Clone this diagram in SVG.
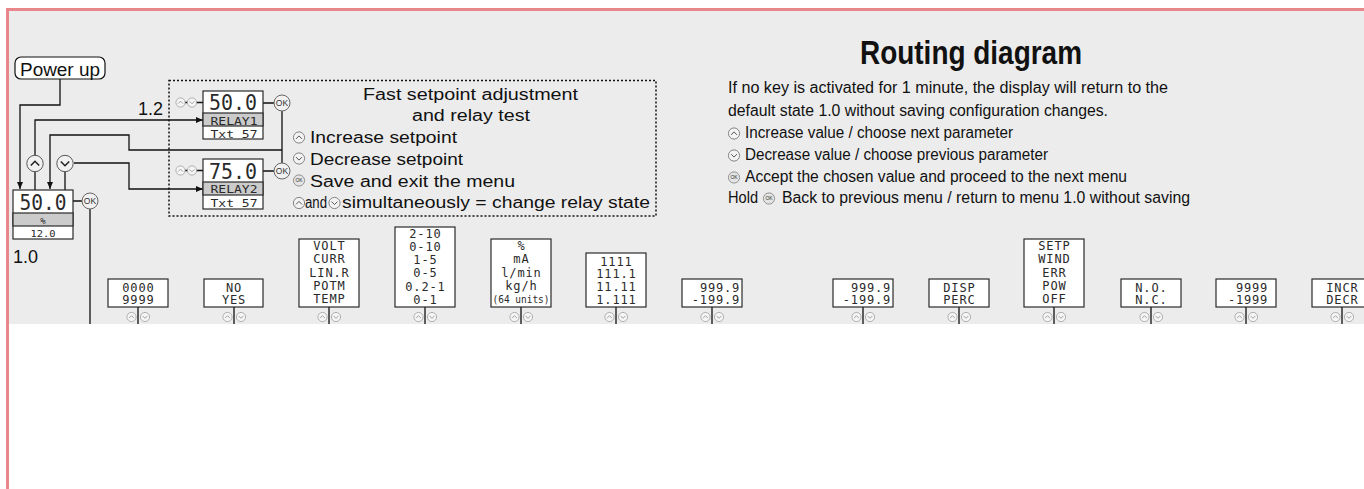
<svg xmlns="http://www.w3.org/2000/svg" xmlns:xlink="http://www.w3.org/1999/xlink" width="1364" height="489" viewBox="0 0 1364 489">
<style>
.bg{fill:#ececec}
.frame{fill:none;stroke:#e9868c;stroke-width:3}
.ln{fill:none;stroke:#111;stroke-width:1.3}
.bx{fill:#fff;stroke:#2a2a2a;stroke-width:1.2}
.gry{fill:#cbcbcb;stroke:#2a2a2a;stroke-width:1.2}
.lcd{font-family:"DejaVu Sans Mono","Liberation Mono",monospace;font-size:12px;fill:#2a2a2a;letter-spacing:0.8px;text-anchor:middle}
.lcdr{font-family:"DejaVu Sans Mono","Liberation Mono",monospace;font-size:12px;fill:#2a2a2a;letter-spacing:0.8px;text-anchor:end}
.lcdfit{font-family:"DejaVu Sans Mono","Liberation Mono",monospace;fill:#2a2a2a;text-anchor:middle}
.sans{font-family:"Liberation Sans",Arial,sans-serif;fill:#111}
.t16{font-size:16px}
.t18{font-size:18px}
.dot{fill:none;stroke:#111;stroke-width:1.5;stroke-dasharray:2 2}
.okt{font-family:"Liberation Sans",Arial,sans-serif;fill:#333;text-anchor:middle}
</style>
<defs>
<marker id="ah" markerWidth="7" markerHeight="6" refX="7" refY="3" orient="auto" markerUnits="userSpaceOnUse"><path d="M0,0 L7,3 L0,6 z" fill="#111"/></marker>
<g id="iu"><circle r="5.6" fill="#f3f3f3" stroke="#777" stroke-width="0.9"/><path d="M-3,1.4 L0,-1.6 L3,1.4" fill="none" stroke="#555" stroke-width="1"/></g>
<g id="id"><circle r="5.6" fill="#f3f3f3" stroke="#777" stroke-width="0.9"/><path d="M-3,-1.4 L0,1.6 L3,-1.4" fill="none" stroke="#555" stroke-width="1"/></g>
<g id="iok"><circle r="5.6" fill="#e4e4e4" stroke="#888" stroke-width="0.9"/><text class="okt" y="1.8" font-size="5">OK</text></g>
<g id="su"><circle r="4.6" fill="#f5f5f5" stroke="#a0a0a0" stroke-width="0.8"/><path d="M-2.4,1.1 L0,-1.3 L2.4,1.1" fill="none" stroke="#999" stroke-width="0.9"/></g>
<g id="sd"><circle r="4.6" fill="#f5f5f5" stroke="#a0a0a0" stroke-width="0.8"/><path d="M-2.4,-1.1 L0,1.3 L2.4,-1.1" fill="none" stroke="#999" stroke-width="0.9"/></g>
<g id="bu"><circle r="8.2" fill="#f1f1f1" stroke="#555" stroke-width="1"/><path d="M-4.2,2 L0,-2.3 L4.2,2" fill="none" stroke="#222" stroke-width="1.5"/></g>
<g id="bd"><circle r="8.2" fill="#f1f1f1" stroke="#555" stroke-width="1"/><path d="M-4.2,-2 L0,2.3 L4.2,-2" fill="none" stroke="#222" stroke-width="1.5"/></g>
<g id="okb"><circle r="8" fill="#f1f1f1" stroke="#666" stroke-width="1"/><text class="okt" y="3" font-size="8.5">OK</text></g>
</defs>

<rect x="0" y="0" width="1364" height="489" fill="#fff"/>
<rect class="bg" x="9" y="10" width="1355" height="314"/>
<path class="frame" d="M7.5,489 V9.5 H1364"/>

<g id="connectors">
<path class="ln" d="M60,79 V105 H20 V189" marker-end="url(#ah)"/>
<path class="ln" d="M35,155 V120 H203" marker-end="url(#ah)"/>
<path class="ln" d="M282,150 H129 V135 H50 V189" marker-end="url(#ah)"/>
<path class="ln" d="M74,163 H129 V189 H203" marker-end="url(#ah)"/>
<path class="ln" d="M35,172 V190 M65,172 V190"/>
<path class="ln" d="M73,201 H82 M90,209 V324"/>
<path class="ln" d="M263,103 H274 M263,171 H274 M282,111 V163"/>
<path class="ln" d="M185,102.5 H203 M185,170.5 H203"/>
<path class="ln" d="M138,307 V324 M234,307 V324 M329,307 V324 M425,307 V324 M521,307 V324 M616,307 V324 M712,307 V324 M863,307 V324 M959,307 V324 M1054,307 V324 M1151,307 V324 M1246,307 V324 M1342,307 V324"/>
</g>

<g id="power-up">
<rect x="15" y="57" width="90" height="22" rx="6" fill="#fff" stroke="#111" stroke-width="1.2"/>
<text class="sans t18" x="20" y="76" textLength="80" lengthAdjust="spacingAndGlyphs">Power up</text>
</g>

<g id="menu-1-0">
<rect class="bx" x="13" y="190" width="60" height="49"/>
<rect class="gry" x="13" y="213" width="60" height="13"/>
<text class="lcdfit" x="43" y="210" font-size="21" textLength="47" lengthAdjust="spacingAndGlyphs">50.0</text>
<text class="lcdfit" x="43" y="224" font-size="9">%</text>
<text class="lcdfit" x="43" y="237" font-size="9.5" textLength="25" lengthAdjust="spacingAndGlyphs">12.0</text>
<use xlink:href="#bu" x="35" y="163.5"/>
<use xlink:href="#bd" x="65" y="163.5"/>
<use xlink:href="#okb" x="90" y="201"/>
<text class="sans t18" x="13" y="263">1.0</text>
</g>

<g id="menu-1-2">
<rect class="dot" x="169" y="80.5" width="487" height="135.5"/>
<text class="sans t18" x="138" y="115">1.2</text>
<rect class="bx" x="203" y="91" width="60" height="48"/>
<rect class="gry" x="203" y="113" width="60" height="13"/>
<text class="lcdfit" x="233" y="110" font-size="21" textLength="48" lengthAdjust="spacingAndGlyphs">50.0</text>
<text class="lcdfit" x="234" y="124.5" font-size="11" textLength="47" lengthAdjust="spacingAndGlyphs">RELAY1</text>
<text class="lcdfit" x="234" y="137.5" font-size="11" textLength="47" lengthAdjust="spacingAndGlyphs">Txt 57</text>
<use xlink:href="#su" x="180.5" y="102.5"/>
<use xlink:href="#sd" x="192" y="102.5"/>
<use xlink:href="#okb" x="282" y="103"/>
<rect class="bx" x="203" y="159" width="60" height="50"/>
<rect class="gry" x="203" y="182" width="60" height="13"/>
<text class="lcdfit" x="233" y="179" font-size="21" textLength="48" lengthAdjust="spacingAndGlyphs">75.0</text>
<text class="lcdfit" x="234" y="193.3" font-size="11" textLength="47" lengthAdjust="spacingAndGlyphs">RELAY2</text>
<text class="lcdfit" x="234" y="207" font-size="11" textLength="47" lengthAdjust="spacingAndGlyphs">Txt 57</text>
<use xlink:href="#su" x="180.5" y="170.5"/>
<use xlink:href="#sd" x="192" y="170.5"/>
<use xlink:href="#okb" x="282" y="171"/>
<text class="sans t16" x="363" y="100" textLength="215" lengthAdjust="spacingAndGlyphs">Fast setpoint adjustment</text>
<text class="sans t16" x="412" y="120.5" textLength="118" lengthAdjust="spacingAndGlyphs">and relay test</text>
<use xlink:href="#iu" x="299" y="137.5"/>
<text class="sans t16" x="310" y="143.3" textLength="147" lengthAdjust="spacingAndGlyphs">Increase setpoint</text>
<use xlink:href="#id" x="299" y="158.5"/>
<text class="sans t16" x="310" y="165" textLength="153" lengthAdjust="spacingAndGlyphs">Decrease setpoint</text>
<use xlink:href="#iok" x="299" y="180.5"/>
<text class="sans t16" x="310" y="187.3" textLength="205" lengthAdjust="spacingAndGlyphs">Save and exit the menu</text>
<use xlink:href="#iu" x="299" y="203"/>
<text class="sans t16" x="305" y="208.3" textLength="22" lengthAdjust="spacingAndGlyphs">and</text>
<use xlink:href="#id" x="334.5" y="203"/>
<text class="sans t16" x="342" y="208.3" textLength="308" lengthAdjust="spacingAndGlyphs">simultaneously = change relay state</text>
</g>

<g id="legend">
<text class="sans" x="860" y="64" font-size="33" font-weight="bold" textLength="222" lengthAdjust="spacingAndGlyphs">Routing diagram</text>
<text class="sans t16" x="728" y="93.3" textLength="440" lengthAdjust="spacingAndGlyphs">If no key is activated for 1 minute, the display will return to the</text>
<text class="sans t16" x="728" y="115.5" textLength="380" lengthAdjust="spacingAndGlyphs">default state 1.0 without saving configuration changes.</text>
<use xlink:href="#iu" x="734" y="133.5"/>
<text class="sans t16" x="745" y="137.8" textLength="268" lengthAdjust="spacingAndGlyphs">Increase value / choose next parameter</text>
<use xlink:href="#id" x="734" y="155.5"/>
<text class="sans t16" x="745" y="159.8" textLength="303" lengthAdjust="spacingAndGlyphs">Decrease value / choose previous parameter</text>
<use xlink:href="#iok" x="734" y="177.5"/>
<text class="sans t16" x="745" y="181.7" textLength="382" lengthAdjust="spacingAndGlyphs">Accept the chosen value and proceed to the next menu</text>
<text class="sans t16" x="728" y="203.3" textLength="30" lengthAdjust="spacingAndGlyphs">Hold</text>
<use xlink:href="#iok" x="769" y="198.5"/>
<text class="sans t16" x="782" y="203.3" textLength="408" lengthAdjust="spacingAndGlyphs">Back to previous menu / return to menu 1.0 without saving</text>
</g>

<g id="p-0000">
<rect class="bx" x="108" y="279" width="60" height="28"/>
<text class="lcd" x="138.4" y="292">0000</text><text class="lcd" x="138.4" y="304">9999</text>
<use xlink:href="#su" x="131.5" y="317"/><use xlink:href="#sd" x="145" y="317"/>
</g>
<g id="p-noyes">
<rect class="bx" x="204" y="279" width="59" height="28"/>
<text class="lcd" x="234" y="292">NO</text><text class="lcd" x="234" y="304">YES</text>
<use xlink:href="#su" x="227.5" y="317"/><use xlink:href="#sd" x="241" y="317"/>
</g>
<g id="p-input">
<rect class="bx" x="299" y="239" width="60" height="68"/>
<text class="lcd" x="329.4" y="250">VOLT</text><text class="lcd" x="329.4" y="263.3">CURR</text><text class="lcd" x="329.4" y="276.7">LIN.R</text><text class="lcd" x="329.4" y="290">POTM</text><text class="lcd" x="329.4" y="303.3">TEMP</text>
<use xlink:href="#su" x="322.5" y="317"/><use xlink:href="#sd" x="336" y="317"/>
</g>
<g id="p-range">
<rect class="bx" x="395" y="227" width="60" height="80"/>
<text class="lcd" x="425.4" y="237.5">2-10</text><text class="lcd" x="425.4" y="250.8">0-10</text><text class="lcd" x="425.4" y="264">1-5</text><text class="lcd" x="425.4" y="277.3">0-5</text><text class="lcd" x="425.4" y="290.7">0.2-1</text><text class="lcd" x="425.4" y="304">0-1</text>
<use xlink:href="#su" x="418.5" y="317"/><use xlink:href="#sd" x="432" y="317"/>
</g>
<g id="p-unit">
<rect class="bx" x="491" y="239" width="60" height="68"/>
<text class="lcd" x="521.4" y="250">%</text><text class="lcd" x="521.4" y="263.3">mA</text><text class="lcd" x="521.4" y="276.7">l/min</text><text class="lcd" x="521.4" y="290">kg/h</text>
<text class="lcdfit" x="521" y="303.3" font-size="10" textLength="57" lengthAdjust="spacingAndGlyphs">(64 units)</text>
<use xlink:href="#su" x="514.5" y="317"/><use xlink:href="#sd" x="528" y="317"/>
</g>
<g id="p-decimal">
<rect class="bx" x="586" y="253" width="60" height="54"/>
<text class="lcd" x="616.4" y="265.7">1111</text><text class="lcd" x="616.4" y="278.3">111.1</text><text class="lcd" x="616.4" y="291">11.11</text><text class="lcd" x="616.4" y="304">1.111</text>
<use xlink:href="#su" x="609.5" y="317"/><use xlink:href="#sd" x="623" y="317"/>
</g>
<g id="p-span1">
<rect class="bx" x="682" y="279" width="60" height="28"/>
<text class="lcdr" x="740" y="292">999.9</text><text class="lcdr" x="740" y="304">-199.9</text>
<use xlink:href="#su" x="705.5" y="317"/><use xlink:href="#sd" x="719" y="317"/>
</g>
<g id="p-span2">
<rect class="bx" x="833" y="279" width="60" height="28"/>
<text class="lcdr" x="891" y="292">999.9</text><text class="lcdr" x="891" y="304">-199.9</text>
<use xlink:href="#su" x="856.5" y="317"/><use xlink:href="#sd" x="870" y="317"/>
</g>
<g id="p-disp">
<rect class="bx" x="929" y="279" width="60" height="28"/>
<text class="lcd" x="959.4" y="292">DISP</text><text class="lcd" x="959.4" y="304">PERC</text>
<use xlink:href="#su" x="952.5" y="317"/><use xlink:href="#sd" x="966" y="317"/>
</g>
<g id="p-func">
<rect class="bx" x="1024" y="239" width="60" height="68"/>
<text class="lcd" x="1054.4" y="250">SETP</text><text class="lcd" x="1054.4" y="263.3">WIND</text><text class="lcd" x="1054.4" y="276.7">ERR</text><text class="lcd" x="1054.4" y="290">POW</text><text class="lcd" x="1054.4" y="303.3">OFF</text>
<use xlink:href="#su" x="1047.5" y="317"/><use xlink:href="#sd" x="1061" y="317"/>
</g>
<g id="p-contact">
<rect class="bx" x="1121" y="279" width="60" height="28"/>
<text class="lcd" x="1151.4" y="292">N.O.</text><text class="lcd" x="1151.4" y="304">N.C.</text>
<use xlink:href="#su" x="1144.5" y="317"/><use xlink:href="#sd" x="1158" y="317"/>
</g>
<g id="p-setp">
<rect class="bx" x="1216" y="279" width="60" height="28"/>
<text class="lcdr" x="1268" y="292">9999</text><text class="lcdr" x="1268" y="304">-1999</text>
<use xlink:href="#su" x="1239.5" y="317"/><use xlink:href="#sd" x="1253" y="317"/>
</g>
<g id="p-dir">
<rect class="bx" x="1312" y="279" width="60" height="28"/>
<text class="lcd" x="1342.4" y="292">INCR</text><text class="lcd" x="1342.4" y="304">DECR</text>
<use xlink:href="#su" x="1335.5" y="317"/><use xlink:href="#sd" x="1349" y="317"/>
</g>
</svg>
